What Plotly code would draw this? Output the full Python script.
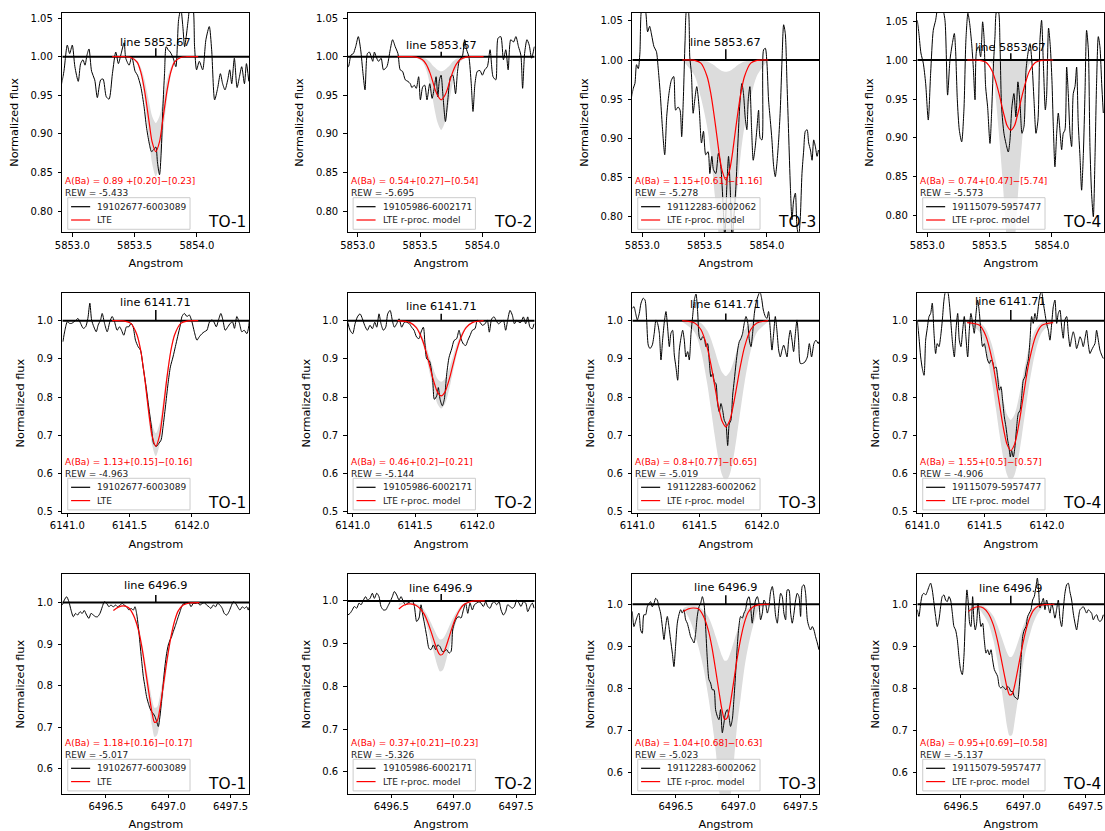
import plotly.graph_objects as go

# ---------------------------------------------------------------------------
# Ba II lines and stars
# ---------------------------------------------------------------------------
LINES = [5853.67, 6141.71, 6496.9]
CONTINUUM = 1.0
STARS = ["TO-1", "TO-2", "TO-3", "TO-4"]
STAR_IDS = ["19102677-6003089", "19105986-6002171", "19112283-6002062", "19115079-5957477"]
MODEL_NAMES = ["LTE", "LTE r-proc. model", "LTE r-proc. model", "LTE r-proc. model"]

ABUND_TEXT = [
    ["A(Ba) = 0.89 +[0.20]\u2212[0.23]", "A(Ba) = 0.54+[0.27]\u2212[0.54]",
     "A(Ba) = 1.15+[0.61]\u2212[1.16]", "A(Ba) = 0.74+[0.47]\u2212[5.74]"],
    ["A(Ba) = 1.13+[0.15]\u2212[0.16]", "A(Ba) = 0.46+[0.2]\u2212[0.21]",
     "A(Ba) = 0.8+[0.77]\u2212[0.65]", "A(Ba) = 1.55+[0.5]\u2212[0.57]"],
    ["A(Ba) = 1.18+[0.16]\u2212[0.17]", "A(Ba) = 0.37+[0.21]\u2212[0.23]",
     "A(Ba) = 1.04+[0.68]\u2212[0.63]", "A(Ba) = 0.95+[0.69]\u2212[0.58]"],
]
REW = [
    [-5.433, -5.695, -5.278, -5.573],
    [-4.963, -5.144, -5.019, -4.906],
    [-5.017, -5.326, -5.023, -5.137],
]

# ---------------------------------------------------------------------------
# Observed spectra: (wavelength [A], normalized flux)
# ---------------------------------------------------------------------------
spec_5853_to1 = [
    (5852.912, 0.963), (5852.933, 0.981), (5852.960, 1.015), (5852.979, 1.004), (5853.000, 1.015),
    (5853.021, 0.987), (5853.048, 0.968), (5853.067, 0.991), (5853.086, 0.996), (5853.102, 0.989),
    (5853.118, 1.002), (5853.134, 1.010), (5853.155, 0.981), (5853.180, 0.970), (5853.201, 0.947),
    (5853.228, 0.970), (5853.247, 0.971), (5853.273, 0.948), (5853.295, 0.945), (5853.322, 0.978),
    (5853.349, 1.006), (5853.370, 0.991), (5853.389, 1.002), (5853.416, 1.018), (5853.429, 0.998),
    (5853.456, 0.989), (5853.477, 1.000), (5853.504, 0.981), (5853.523, 0.976), (5853.550, 0.961),
    (5853.576, 0.935), (5853.595, 0.909), (5853.617, 0.888), (5853.635, 0.877), (5853.651, 0.879),
    (5853.670, 0.883), (5853.684, 0.862), (5853.700, 0.847), (5853.713, 0.875), (5853.727, 0.935),
    (5853.740, 0.978), (5853.753, 1.013), (5853.769, 1.009), (5853.786, 1.006), (5853.810, 0.998),
    (5853.831, 0.987), (5853.853, 1.048), (5853.871, 1.062), (5853.887, 1.039), (5853.901, 1.013),
    (5853.914, 1.026), (5853.930, 1.048), (5853.946, 1.065), (5853.965, 1.065), (5853.981, 1.013),
    (5853.997, 0.983), (5854.019, 0.994), (5854.046, 0.983), (5854.072, 1.022), (5854.099, 1.039),
    (5854.118, 1.009), (5854.142, 0.944), (5854.166, 0.959), (5854.188, 0.978), (5854.206, 0.965),
    (5854.225, 0.957), (5854.247, 0.970), (5854.263, 0.983), (5854.279, 0.965), (5854.300, 0.998),
    (5854.322, 0.960), (5854.340, 0.973), (5854.359, 0.987), (5854.381, 0.965), (5854.397, 0.991),
    (5854.416, 0.968),
]
spec_5853_to2 = [
    (5852.906, 0.989), (5852.925, 0.987), (5852.946, 1.002), (5852.965, 1.004), (5852.984, 1.013),
    (5853.005, 1.026), (5853.024, 1.009), (5853.043, 0.978), (5853.059, 0.957), (5853.078, 1.004),
    (5853.094, 1.006), (5853.108, 1.000), (5853.121, 0.994), (5853.134, 1.006), (5853.148, 1.000),
    (5853.167, 0.994), (5853.188, 0.998), (5853.207, 0.983), (5853.234, 0.987), (5853.261, 1.009),
    (5853.280, 1.022), (5853.301, 1.013), (5853.323, 1.004), (5853.341, 0.983), (5853.360, 0.981),
    (5853.382, 0.970), (5853.403, 0.968), (5853.422, 0.965), (5853.435, 0.960), (5853.454, 0.963),
    (5853.470, 0.959), (5853.489, 0.974), (5853.503, 0.944), (5853.522, 0.961), (5853.538, 0.963),
    (5853.556, 0.944), (5853.578, 0.965), (5853.597, 0.946), (5853.616, 0.961), (5853.629, 0.974),
    (5853.643, 0.948), (5853.656, 0.970), (5853.669, 0.976), (5853.683, 0.952), (5853.704, 0.916),
    (5853.723, 0.944), (5853.745, 0.974), (5853.763, 0.976), (5853.785, 0.952), (5853.801, 0.981),
    (5853.817, 0.996), (5853.839, 1.000), (5853.858, 1.022), (5853.874, 1.009), (5853.892, 1.000),
    (5853.911, 0.965), (5853.925, 0.929), (5853.941, 0.965), (5853.960, 0.981), (5853.981, 0.982),
    (5854.000, 0.976), (5854.019, 0.983), (5854.040, 0.987), (5854.062, 1.009), (5854.086, 0.974),
    (5854.108, 0.970), (5854.126, 1.024), (5854.148, 1.026), (5854.169, 0.996), (5854.188, 1.009),
    (5854.207, 0.983), (5854.228, 1.022), (5854.250, 1.019), (5854.269, 1.026), (5854.290, 1.013),
    (5854.309, 1.002), (5854.323, 0.959), (5854.339, 1.004), (5854.358, 1.022), (5854.376, 1.015),
    (5854.395, 0.998), (5854.417, 1.013),
]
spec_5853_to3 = [
    (5852.912, 0.951), (5852.928, 0.964), (5852.941, 0.970), (5852.954, 0.994), (5852.968, 0.989),
    (5852.981, 1.009), (5852.992, 1.062), (5853.008, 1.070), (5853.027, 1.062), (5853.043, 1.036),
    (5853.059, 1.043), (5853.075, 1.032), (5853.094, 1.017), (5853.113, 1.011), (5853.129, 0.987),
    (5853.145, 0.955), (5853.161, 0.915), (5853.180, 0.879), (5853.196, 0.928), (5853.214, 0.957),
    (5853.233, 0.974), (5853.252, 0.979), (5853.268, 0.936), (5853.287, 0.940), (5853.303, 0.936),
    (5853.316, 0.902), (5853.330, 0.953), (5853.343, 1.023), (5853.357, 1.065), (5853.367, 1.065),
    (5853.381, 1.004), (5853.394, 0.983), (5853.408, 0.932), (5853.421, 0.949), (5853.437, 0.966),
    (5853.456, 0.940), (5853.475, 0.894), (5853.491, 0.909), (5853.509, 0.879), (5853.528, 0.883),
    (5853.542, 0.855), (5853.558, 0.877), (5853.571, 0.860), (5853.590, 0.855), (5853.611, 0.881),
    (5853.630, 0.864), (5853.649, 0.813), (5853.662, 0.772), (5853.678, 0.838), (5853.692, 0.877),
    (5853.705, 0.838), (5853.721, 0.772), (5853.737, 0.804), (5853.751, 0.838), (5853.767, 0.894),
    (5853.783, 0.945), (5853.799, 0.970), (5853.812, 0.957), (5853.826, 0.926), (5853.839, 0.911),
    (5853.850, 0.949), (5853.863, 0.966), (5853.877, 0.911), (5853.890, 0.872), (5853.906, 0.889),
    (5853.920, 0.913), (5853.933, 0.936), (5853.946, 0.900), (5853.960, 0.898), (5853.973, 1.013),
    (5853.987, 1.015), (5854.000, 0.996), (5854.013, 0.949), (5854.027, 0.923), (5854.040, 0.898),
    (5854.054, 0.864), (5854.067, 0.851), (5854.080, 0.868), (5854.094, 0.898), (5854.107, 0.936),
    (5854.121, 1.000), (5854.134, 1.045), (5854.147, 1.034), (5854.161, 0.970), (5854.174, 0.906),
    (5854.188, 0.838), (5854.201, 0.796), (5854.214, 0.821), (5854.228, 0.830), (5854.241, 0.787),
    (5854.255, 0.775), (5854.268, 0.800), (5854.281, 0.855), (5854.295, 0.885), (5854.308, 0.909),
    (5854.322, 0.911), (5854.335, 0.894), (5854.349, 0.885), (5854.362, 0.872), (5854.375, 0.898),
    (5854.389, 0.889), (5854.402, 0.877), (5854.413, 0.885),
]
spec_5853_to4 = [
    (5852.920, 1.051), (5852.933, 1.034), (5852.949, 1.009), (5852.968, 0.996), (5852.987, 0.970),
    (5853.008, 0.923), (5853.027, 0.983), (5853.048, 1.038), (5853.067, 1.051), (5853.083, 1.066),
    (5853.102, 1.070), (5853.123, 1.066), (5853.142, 1.051), (5853.163, 0.955), (5853.182, 1.000),
    (5853.201, 1.021), (5853.217, 1.034), (5853.227, 1.013), (5853.241, 0.949), (5853.257, 0.910),
    (5853.276, 0.895), (5853.294, 0.936), (5853.310, 1.026), (5853.326, 1.060), (5853.340, 1.047),
    (5853.356, 1.021), (5853.369, 0.991), (5853.383, 0.949), (5853.396, 1.013), (5853.412, 1.017),
    (5853.428, 1.004), (5853.444, 1.049), (5853.455, 1.030), (5853.468, 0.966), (5853.484, 0.940),
    (5853.503, 0.893), (5853.516, 0.932), (5853.530, 0.991), (5853.543, 1.030), (5853.556, 1.062),
    (5853.570, 1.062), (5853.583, 1.021), (5853.596, 0.940), (5853.615, 0.906), (5853.631, 0.893),
    (5853.650, 0.882), (5853.663, 0.897), (5853.679, 0.940), (5853.695, 0.957), (5853.711, 0.927),
    (5853.727, 0.972), (5853.744, 0.944), (5853.760, 0.906), (5853.776, 0.915), (5853.792, 0.987),
    (5853.808, 1.009), (5853.824, 1.021), (5853.840, 0.996), (5853.856, 0.949), (5853.872, 0.906),
    (5853.888, 0.923), (5853.904, 1.026), (5853.917, 1.051), (5853.931, 0.996), (5853.947, 0.936),
    (5853.957, 0.953), (5853.973, 1.041), (5853.987, 1.017), (5854.000, 0.974), (5854.011, 0.915),
    (5854.024, 0.863), (5854.038, 0.906), (5854.051, 0.932), (5854.064, 0.910), (5854.078, 0.885),
    (5854.091, 0.906), (5854.104, 0.910), (5854.118, 0.991), (5854.131, 0.957), (5854.145, 0.906),
    (5854.158, 0.889), (5854.171, 0.957), (5854.185, 0.966), (5854.198, 0.991), (5854.211, 0.919),
    (5854.225, 0.876), (5854.238, 0.833), (5854.252, 0.880), (5854.265, 0.957), (5854.278, 1.038),
    (5854.292, 1.013), (5854.305, 0.889), (5854.318, 0.829), (5854.332, 0.799), (5854.345, 0.872),
    (5854.358, 0.970), (5854.372, 1.030), (5854.385, 1.017), (5854.399, 0.970), (5854.412, 0.932),
]
spec_6141_to1 = [
    (6140.965, 0.945), (6140.981, 0.975), (6141.000, 0.997), (6141.019, 0.993), (6141.035, 0.993),
    (6141.053, 0.997), (6141.072, 1.002), (6141.085, 1.006), (6141.107, 0.993), (6141.128, 0.980),
    (6141.147, 0.984), (6141.165, 1.006), (6141.181, 1.046), (6141.195, 1.002), (6141.213, 0.984),
    (6141.232, 0.971), (6141.248, 0.989), (6141.267, 1.002), (6141.280, 1.019), (6141.299, 0.993),
    (6141.320, 0.971), (6141.341, 0.997), (6141.360, 1.011), (6141.379, 0.997), (6141.400, 0.975),
    (6141.419, 0.984), (6141.435, 0.975), (6141.453, 0.962), (6141.475, 0.984), (6141.493, 0.984),
    (6141.512, 0.993), (6141.528, 0.984), (6141.547, 0.949), (6141.568, 0.932), (6141.587, 0.923),
    (6141.608, 0.879), (6141.632, 0.827), (6141.653, 0.774), (6141.675, 0.722), (6141.693, 0.678),
    (6141.715, 0.671), (6141.733, 0.678), (6141.752, 0.687), (6141.768, 0.722), (6141.787, 0.774),
    (6141.808, 0.835), (6141.827, 0.879), (6141.848, 0.905), (6141.867, 0.932), (6141.885, 0.958),
    (6141.907, 0.989), (6141.920, 1.011), (6141.939, 1.019), (6141.960, 1.011), (6141.979, 1.015),
    (6142.000, 0.997), (6142.019, 0.971), (6142.040, 0.949), (6142.059, 0.958), (6142.080, 0.966),
    (6142.099, 0.971), (6142.120, 0.975), (6142.141, 0.997), (6142.160, 1.002), (6142.176, 0.997),
    (6142.195, 0.984), (6142.213, 1.002), (6142.232, 1.019), (6142.248, 1.002), (6142.267, 0.975),
    (6142.288, 0.984), (6142.307, 0.993), (6142.325, 0.997), (6142.341, 0.980), (6142.360, 1.011),
    (6142.381, 0.993), (6142.400, 0.971), (6142.419, 0.975), (6142.440, 0.966), (6142.453, 0.980),
    (6142.461, 1.002),
]
spec_6141_to2 = [
    (6140.960, 0.996), (6140.979, 0.975), (6141.000, 0.966), (6141.019, 0.992), (6141.038, 1.010),
    (6141.059, 1.018), (6141.078, 1.005), (6141.096, 0.988), (6141.118, 0.975), (6141.139, 0.988),
    (6141.158, 0.979), (6141.177, 0.996), (6141.193, 0.983), (6141.211, 1.018), (6141.227, 0.992),
    (6141.246, 0.975), (6141.265, 0.983), (6141.281, 1.018), (6141.300, 1.027), (6141.318, 1.001),
    (6141.334, 0.983), (6141.353, 0.992), (6141.372, 1.005), (6141.393, 0.983), (6141.415, 0.996),
    (6141.433, 0.996), (6141.455, 0.992), (6141.473, 0.983), (6141.492, 0.975), (6141.513, 0.957),
    (6141.532, 0.953), (6141.548, 0.970), (6141.567, 0.983), (6141.580, 0.939), (6141.594, 0.900),
    (6141.615, 0.895), (6141.628, 0.878), (6141.642, 0.843), (6141.655, 0.794), (6141.674, 0.803),
    (6141.687, 0.825), (6141.701, 0.794), (6141.719, 0.777), (6141.735, 0.794), (6141.754, 0.860),
    (6141.773, 0.904), (6141.794, 0.926), (6141.813, 0.948), (6141.834, 0.953), (6141.853, 0.975),
    (6141.869, 0.953), (6141.888, 0.939), (6141.907, 0.935), (6141.923, 0.948), (6141.941, 0.961),
    (6141.960, 0.975), (6141.981, 0.979), (6142.000, 1.001), (6142.021, 0.996), (6142.040, 0.988),
    (6142.062, 0.992), (6142.080, 1.001), (6142.096, 0.970), (6142.115, 1.005), (6142.134, 1.010),
    (6142.150, 1.001), (6142.169, 0.992), (6142.187, 0.996), (6142.209, 1.001), (6142.227, 0.975),
    (6142.243, 1.001), (6142.262, 1.027), (6142.281, 1.014), (6142.297, 0.992), (6142.316, 1.001),
    (6142.334, 0.996), (6142.350, 0.996), (6142.369, 1.010), (6142.388, 0.992), (6142.404, 1.010),
    (6142.422, 0.983), (6142.441, 0.979), (6142.455, 0.992),
]
spec_6141_to3 = [
    (6140.960, 1.032), (6140.973, 1.037), (6140.987, 1.019), (6141.000, 1.002), (6141.016, 1.019),
    (6141.030, 1.046), (6141.048, 1.059), (6141.062, 1.054), (6141.075, 1.002), (6141.088, 0.936),
    (6141.102, 0.927), (6141.120, 0.936), (6141.136, 0.967), (6141.150, 1.002), (6141.163, 0.993),
    (6141.177, 0.967), (6141.190, 0.897), (6141.203, 0.949), (6141.217, 0.997), (6141.230, 1.024),
    (6141.243, 0.984), (6141.257, 0.932), (6141.270, 0.967), (6141.283, 0.975), (6141.297, 0.910),
    (6141.310, 0.879), (6141.324, 0.844), (6141.337, 0.923), (6141.350, 0.954), (6141.364, 0.975),
    (6141.377, 0.949), (6141.390, 0.905), (6141.404, 0.919), (6141.417, 0.897), (6141.431, 0.967),
    (6141.444, 1.011), (6141.457, 1.054), (6141.471, 1.070), (6141.484, 1.024), (6141.497, 0.958),
    (6141.511, 0.949), (6141.524, 0.958), (6141.537, 0.954), (6141.551, 0.932), (6141.564, 0.940),
    (6141.578, 0.892), (6141.591, 0.853), (6141.605, 0.862), (6141.618, 0.840), (6141.631, 0.835),
    (6141.644, 0.783), (6141.658, 0.761), (6141.671, 0.783), (6141.685, 0.765), (6141.698, 0.739),
    (6141.711, 0.730), (6141.725, 0.673), (6141.738, 0.730), (6141.751, 0.739), (6141.765, 0.805),
    (6141.778, 0.844), (6141.792, 0.888), (6141.805, 0.923), (6141.818, 0.945), (6141.832, 0.954),
    (6141.845, 0.967), (6141.858, 0.993), (6141.872, 1.011), (6141.885, 0.997), (6141.899, 0.949),
    (6141.912, 0.932), (6141.925, 0.967), (6141.939, 1.019), (6141.952, 1.046), (6141.971, 1.067),
    (6141.984, 1.076), (6141.997, 1.059), (6142.011, 1.028), (6142.027, 1.011), (6142.040, 1.006),
    (6142.053, 1.024), (6142.067, 0.975), (6142.080, 0.923), (6142.094, 0.967), (6142.107, 1.011),
    (6142.120, 0.975), (6142.134, 0.923), (6142.147, 0.905), (6142.161, 0.923), (6142.174, 0.936),
    (6142.187, 0.923), (6142.201, 0.905), (6142.214, 0.949), (6142.227, 0.975), (6142.241, 0.949),
    (6142.254, 0.919), (6142.267, 0.962), (6142.281, 1.002), (6142.294, 0.949), (6142.308, 0.888),
    (6142.326, 0.888), (6142.345, 0.892), (6142.364, 0.905), (6142.380, 0.940), (6142.398, 0.905),
    (6142.417, 0.940), (6142.433, 0.949), (6142.452, 0.940), (6142.457, 0.945),
]
spec_6141_to4 = [
    (6140.960, 1.002), (6140.973, 0.958), (6140.987, 0.905), (6141.000, 0.875), (6141.014, 0.857),
    (6141.027, 0.949), (6141.040, 0.980), (6141.054, 1.011), (6141.067, 1.019), (6141.080, 1.046),
    (6141.094, 0.967), (6141.107, 0.914), (6141.120, 0.940), (6141.134, 0.932), (6141.147, 0.958),
    (6141.161, 1.002), (6141.174, 1.054), (6141.187, 1.076), (6141.203, 1.076), (6141.217, 1.046),
    (6141.230, 0.993), (6141.243, 0.940), (6141.257, 0.905), (6141.270, 0.975), (6141.284, 1.019),
    (6141.297, 0.949), (6141.310, 0.932), (6141.324, 0.975), (6141.337, 1.011), (6141.350, 0.958),
    (6141.364, 0.905), (6141.377, 0.975), (6141.390, 1.019), (6141.404, 0.993), (6141.417, 0.967),
    (6141.431, 1.019), (6141.444, 1.054), (6141.457, 1.024), (6141.471, 0.967), (6141.484, 0.932),
    (6141.497, 0.940), (6141.511, 0.919), (6141.524, 0.897), (6141.538, 0.888), (6141.551, 0.897),
    (6141.564, 0.892), (6141.578, 0.875), (6141.591, 0.879), (6141.604, 0.853), (6141.618, 0.818),
    (6141.631, 0.827), (6141.644, 0.792), (6141.658, 0.748), (6141.671, 0.722), (6141.685, 0.687),
    (6141.695, 0.669), (6141.706, 0.643), (6141.717, 0.660), (6141.730, 0.643), (6141.743, 0.669),
    (6141.757, 0.722), (6141.770, 0.757), (6141.784, 0.765), (6141.797, 0.800), (6141.810, 0.844),
    (6141.824, 0.853), (6141.837, 0.879), (6141.850, 0.897), (6141.864, 0.949), (6141.877, 1.011),
    (6141.890, 0.993), (6141.904, 1.019), (6141.917, 1.002), (6141.931, 1.037), (6141.944, 1.067),
    (6141.957, 1.076), (6141.971, 1.046), (6141.984, 1.019), (6141.997, 0.993), (6142.011, 0.975),
    (6142.024, 0.949), (6142.038, 0.993), (6142.051, 1.037), (6142.064, 1.054), (6142.078, 0.993),
    (6142.091, 1.019), (6142.104, 1.028), (6142.118, 0.984), (6142.131, 0.954), (6142.144, 1.002),
    (6142.158, 1.011), (6142.171, 0.967), (6142.185, 0.932), (6142.198, 0.954), (6142.211, 0.971),
    (6142.225, 0.954), (6142.238, 0.927), (6142.251, 0.940), (6142.265, 0.958), (6142.278, 0.949),
    (6142.291, 0.932), (6142.305, 0.954), (6142.318, 0.975), (6142.331, 0.940), (6142.345, 0.914),
    (6142.358, 0.923), (6142.372, 0.932), (6142.385, 0.940), (6142.398, 0.975), (6142.412, 0.949),
    (6142.425, 0.923), (6142.439, 0.910), (6142.452, 0.901),
]
spec_6497_to1 = [
    (6496.150, 0.994), (6496.166, 1.006), (6496.185, 1.014), (6496.203, 1.002), (6496.220, 0.982),
    (6496.238, 0.966), (6496.257, 0.974), (6496.273, 0.970), (6496.292, 0.978), (6496.310, 0.974),
    (6496.326, 0.981), (6496.345, 0.970), (6496.364, 0.962), (6496.380, 0.974), (6496.399, 0.970),
    (6496.417, 0.966), (6496.433, 0.966), (6496.452, 0.974), (6496.471, 0.990), (6496.487, 1.002),
    (6496.506, 0.998), (6496.524, 0.990), (6496.540, 0.994), (6496.559, 0.990), (6496.578, 0.994),
    (6496.594, 0.990), (6496.613, 0.994), (6496.631, 0.998), (6496.647, 0.994), (6496.666, 0.990),
    (6496.685, 0.982), (6496.701, 0.986), (6496.720, 0.982), (6496.733, 0.990), (6496.746, 0.974),
    (6496.760, 0.942), (6496.773, 0.902), (6496.786, 0.862), (6496.800, 0.822), (6496.813, 0.798),
    (6496.826, 0.774), (6496.840, 0.758), (6496.853, 0.746), (6496.866, 0.738), (6496.880, 0.733),
    (6496.893, 0.726), (6496.907, 0.714), (6496.920, 0.702), (6496.933, 0.726), (6496.947, 0.766),
    (6496.960, 0.806), (6496.973, 0.846), (6496.987, 0.878), (6497.000, 0.898), (6497.014, 0.910),
    (6497.027, 0.918), (6497.040, 0.930), (6497.054, 0.942), (6497.067, 0.954), (6497.080, 0.966),
    (6497.094, 0.978), (6497.107, 0.990), (6497.121, 0.997), (6497.134, 0.998), (6497.147, 1.000),
    (6497.166, 1.000), (6497.182, 0.990), (6497.201, 0.998), (6497.219, 0.998), (6497.236, 1.000),
    (6497.254, 0.994), (6497.273, 0.998), (6497.289, 1.000), (6497.308, 0.994), (6497.326, 0.990),
    (6497.342, 0.986), (6497.361, 0.994), (6497.380, 0.990), (6497.396, 0.998), (6497.415, 0.994),
    (6497.433, 0.986), (6497.449, 0.974), (6497.468, 0.970), (6497.487, 0.978), (6497.503, 0.990),
    (6497.522, 1.002), (6497.540, 0.998), (6497.556, 0.990), (6497.575, 0.982), (6497.594, 0.990),
    (6497.610, 0.986), (6497.629, 0.990), (6497.642, 0.982), (6497.650, 0.990),
]
spec_6497_to2 = [
    (6496.150, 0.967), (6496.169, 0.971), (6496.187, 0.979), (6496.203, 0.987), (6496.222, 0.983),
    (6496.241, 0.995), (6496.257, 0.991), (6496.276, 1.002), (6496.294, 1.010), (6496.310, 1.002),
    (6496.329, 1.006), (6496.348, 1.018), (6496.364, 1.006), (6496.383, 1.018), (6496.401, 1.010),
    (6496.417, 0.987), (6496.436, 0.979), (6496.455, 0.979), (6496.471, 0.987), (6496.490, 0.998),
    (6496.508, 1.010), (6496.524, 1.022), (6496.543, 1.014), (6496.562, 1.002), (6496.578, 1.010),
    (6496.597, 0.998), (6496.615, 0.991), (6496.631, 0.995), (6496.650, 0.998), (6496.668, 1.002),
    (6496.685, 0.987), (6496.703, 0.952), (6496.722, 0.960), (6496.738, 0.991), (6496.752, 0.967),
    (6496.765, 0.948), (6496.784, 0.917), (6496.802, 0.889), (6496.818, 0.886), (6496.837, 0.897),
    (6496.856, 0.886), (6496.872, 0.897), (6496.891, 0.893), (6496.909, 0.882), (6496.925, 0.882),
    (6496.944, 0.886), (6496.963, 0.878), (6496.979, 0.882), (6496.992, 0.932), (6497.006, 0.948),
    (6497.024, 0.960), (6497.043, 0.963), (6497.059, 0.960), (6497.078, 0.979), (6497.096, 0.995),
    (6497.113, 0.971), (6497.131, 0.995), (6497.150, 0.979), (6497.166, 0.991), (6497.185, 0.995),
    (6497.203, 0.998), (6497.219, 0.995), (6497.238, 0.987), (6497.257, 0.998), (6497.273, 0.987),
    (6497.292, 0.983), (6497.310, 0.995), (6497.326, 0.998), (6497.345, 0.991), (6497.364, 0.998),
    (6497.380, 0.979), (6497.399, 0.967), (6497.417, 0.975), (6497.433, 0.991), (6497.452, 0.987),
    (6497.471, 0.983), (6497.487, 0.987), (6497.506, 1.002), (6497.524, 0.995), (6497.540, 0.987),
    (6497.559, 0.998), (6497.578, 0.995), (6497.594, 0.975), (6497.613, 0.987), (6497.631, 0.995),
    (6497.645, 0.983),
]
spec_6497_to3 = [
    (6496.150, 0.983), (6496.163, 0.947), (6496.177, 0.959), (6496.190, 0.971), (6496.203, 0.979),
    (6496.217, 0.939), (6496.230, 0.931), (6496.243, 0.975), (6496.257, 0.975), (6496.270, 0.994),
    (6496.284, 1.002), (6496.297, 1.006), (6496.310, 0.994), (6496.324, 1.002), (6496.337, 1.014),
    (6496.350, 1.010), (6496.364, 0.994), (6496.377, 0.979), (6496.391, 0.947), (6496.404, 0.916),
    (6496.417, 0.947), (6496.431, 0.971), (6496.444, 0.947), (6496.457, 0.916), (6496.471, 0.884),
    (6496.484, 0.852), (6496.497, 0.900), (6496.511, 0.955), (6496.524, 0.975), (6496.538, 0.987),
    (6496.551, 0.979), (6496.564, 0.987), (6496.578, 0.963), (6496.591, 0.955), (6496.605, 0.939),
    (6496.618, 0.923), (6496.631, 0.916), (6496.645, 0.908), (6496.658, 0.931), (6496.671, 0.971),
    (6496.685, 0.994), (6496.698, 1.002), (6496.712, 1.018), (6496.725, 1.002), (6496.738, 0.947),
    (6496.752, 0.868), (6496.765, 0.821), (6496.778, 0.813), (6496.792, 0.797), (6496.805, 0.797),
    (6496.818, 0.750), (6496.832, 0.734), (6496.845, 0.726), (6496.858, 0.750), (6496.872, 0.695),
    (6496.885, 0.718), (6496.898, 0.742), (6496.912, 0.750), (6496.925, 0.734), (6496.938, 0.710),
    (6496.952, 0.726), (6496.965, 0.774), (6496.979, 0.837), (6496.992, 0.900), (6497.005, 0.947),
    (6497.019, 0.971), (6497.032, 0.967), (6497.046, 0.979), (6497.059, 0.987), (6497.072, 1.010),
    (6497.086, 1.018), (6497.099, 0.994), (6497.112, 0.955), (6497.126, 0.987), (6497.139, 1.010),
    (6497.153, 1.018), (6497.166, 1.002), (6497.179, 0.963), (6497.193, 0.979), (6497.206, 1.010),
    (6497.219, 1.002), (6497.233, 0.979), (6497.246, 0.994), (6497.260, 1.030), (6497.273, 1.042),
    (6497.286, 1.018), (6497.300, 0.971), (6497.313, 0.955), (6497.326, 0.994), (6497.340, 1.026),
    (6497.353, 1.018), (6497.366, 0.979), (6497.380, 0.963), (6497.393, 1.034), (6497.406, 1.034),
    (6497.420, 0.979), (6497.433, 0.955), (6497.447, 0.979), (6497.460, 1.010), (6497.473, 1.026),
    (6497.487, 1.018), (6497.500, 0.971), (6497.513, 1.042), (6497.527, 1.046), (6497.540, 1.026),
    (6497.554, 0.963), (6497.567, 0.947), (6497.580, 0.939), (6497.594, 0.947), (6497.607, 0.939),
    (6497.620, 0.923), (6497.634, 0.908), (6497.647, 0.892),
]
spec_6497_to4 = [
    (6496.150, 0.987), (6496.163, 0.971), (6496.177, 1.002), (6496.190, 1.022), (6496.203, 1.026),
    (6496.217, 1.022), (6496.230, 1.030), (6496.244, 1.042), (6496.257, 1.050), (6496.270, 1.034),
    (6496.284, 1.002), (6496.297, 0.971), (6496.310, 0.947), (6496.324, 0.963), (6496.337, 0.994),
    (6496.350, 1.018), (6496.364, 1.022), (6496.377, 1.010), (6496.390, 1.006), (6496.404, 1.018),
    (6496.417, 1.010), (6496.431, 0.979), (6496.444, 0.947), (6496.457, 0.939), (6496.471, 0.916),
    (6496.484, 0.876), (6496.497, 0.845), (6496.511, 0.833), (6496.524, 0.876), (6496.537, 0.979),
    (6496.548, 1.034), (6496.559, 1.002), (6496.570, 0.955), (6496.580, 0.947), (6496.594, 1.018),
    (6496.604, 0.963), (6496.615, 0.939), (6496.626, 0.955), (6496.637, 1.002), (6496.647, 0.979),
    (6496.661, 0.947), (6496.674, 0.955), (6496.687, 0.916), (6496.701, 0.884), (6496.714, 0.892),
    (6496.728, 0.880), (6496.741, 0.892), (6496.754, 0.868), (6496.768, 0.845), (6496.781, 0.837),
    (6496.794, 0.829), (6496.808, 0.805), (6496.821, 0.801), (6496.835, 0.805), (6496.848, 0.801),
    (6496.861, 0.797), (6496.875, 0.805), (6496.888, 0.801), (6496.901, 0.793), (6496.915, 0.793),
    (6496.928, 0.781), (6496.941, 0.778), (6496.955, 0.774), (6496.968, 0.805), (6496.982, 0.868),
    (6496.995, 0.923), (6497.008, 0.939), (6497.022, 0.947), (6497.035, 0.971), (6497.048, 0.979),
    (6497.062, 0.987), (6497.075, 1.010), (6497.088, 1.018), (6497.102, 1.042), (6497.113, 1.062),
    (6497.123, 1.034), (6497.134, 0.991), (6497.147, 1.002), (6497.161, 1.014), (6497.174, 0.987),
    (6497.187, 1.010), (6497.201, 0.994), (6497.214, 0.979), (6497.228, 1.002), (6497.241, 0.987),
    (6497.254, 0.967), (6497.267, 0.987), (6497.281, 1.010), (6497.294, 0.967), (6497.308, 0.947),
    (6497.321, 0.987), (6497.334, 1.026), (6497.348, 1.046), (6497.361, 1.050), (6497.374, 1.030),
    (6497.388, 1.010), (6497.401, 0.979), (6497.415, 0.955), (6497.428, 0.939), (6497.441, 0.963),
    (6497.455, 0.987), (6497.468, 0.991), (6497.482, 0.994), (6497.495, 0.987), (6497.508, 0.979),
    (6497.522, 0.987), (6497.535, 0.983), (6497.548, 0.979), (6497.562, 0.963), (6497.575, 0.971),
    (6497.589, 0.975), (6497.602, 0.963), (6497.615, 0.959), (6497.629, 0.963), (6497.642, 0.975),
]

# ---------------------------------------------------------------------------
# Synthetic profiles: best-fit model and the +/- abundance envelope
# Rows 1-2 are sampled at offsets from the line centre, row 3 on a fixed grid.
# ---------------------------------------------------------------------------
MODEL_DL = [-0.35, -0.25, -0.20, -0.15, -0.12, -0.09, -0.07, -0.05, -0.03, 0.0,
            0.03, 0.05, 0.07, 0.09, 0.12, 0.15, 0.20, 0.25, 0.34]
MODEL_WL_6497 = [6496.56, 6496.60, 6496.64, 6496.68, 6496.72, 6496.76, 6496.79, 6496.82,
                 6496.85, 6496.87, 6496.89, 6496.91, 6496.93, 6496.96, 6496.99, 6497.02,
                 6497.05, 6497.08, 6497.12, 6497.17, 6497.25]

fit_5853_to1 = [1.0, 1.0, 0.999, 0.993, 0.980, 0.956, 0.934, 0.911, 0.890, 0.877, 0.890, 0.911, 0.934, 0.956, 0.980, 0.993, 0.999, 1.0, 1.0]
hi_5853_to1 = [1.0, 1.0, 1.0, 0.995, 0.986, 0.970, 0.954, 0.938, 0.923, 0.914, 0.923, 0.938, 0.954, 0.970, 0.986, 0.995, 1.0, 1.0, 1.0]
lo_5853_to1 = [1.0, 1.0, 0.999, 0.991, 0.975, 0.945, 0.917, 0.887, 0.862, 0.845, 0.862, 0.887, 0.917, 0.945, 0.975, 0.991, 0.999, 1.0, 1.0]

fit_5853_to2 = [1.0, 1.0, 0.9995, 0.996, 0.990, 0.979, 0.969, 0.958, 0.950, 0.944, 0.950, 0.958, 0.969, 0.979, 0.990, 0.996, 0.9995, 1.0, 1.0]
hi_5853_to2 = [1.0, 1.0, 1.0, 0.999, 0.997, 0.993, 0.989, 0.986, 0.983, 0.981, 0.983, 0.986, 0.989, 0.993, 0.997, 0.999, 1.0, 1.0, 1.0]
lo_5853_to2 = [1.0, 1.0, 0.999, 0.993, 0.983, 0.964, 0.947, 0.929, 0.915, 0.905, 0.915, 0.929, 0.947, 0.964, 0.983, 0.993, 0.999, 1.0, 1.0]

fit_5853_to3 = [1.0, 0.9995, 0.996, 0.979, 0.957, 0.925, 0.901, 0.877, 0.859, 0.847, 0.859, 0.877, 0.901, 0.925, 0.957, 0.979, 0.996, 0.9995, 1.0]
hi_5853_to3 = [1.0, 1.0, 1.0, 0.998, 0.996, 0.993, 0.990, 0.988, 0.986, 0.985, 0.986, 0.988, 0.990, 0.993, 0.996, 0.998, 1.0, 1.0, 1.0]
lo_5853_to3 = [1.0, 0.98, 0.952, 0.915, 0.88, 0.83, 0.80, 0.76, 0.72, 0.68, 0.72, 0.76, 0.80, 0.83, 0.88, 0.915, 0.952, 0.98, 1.0]

fit_5853_to4 = [1.0, 0.9995, 0.997, 0.986, 0.972, 0.954, 0.940, 0.927, 0.916, 0.910, 0.916, 0.927, 0.940, 0.954, 0.972, 0.986, 0.997, 0.9995, 1.0]
hi_5853_to4 = [1.0, 1.0, 1.0, 1.0, 1.0, 1.0, 1.0, 1.0, 1.0, 1.0, 1.0, 1.0, 1.0, 1.0, 1.0, 1.0, 1.0, 1.0, 1.0]
lo_5853_to4 = [1.0, 1.0, 1.0, 0.995, 0.95, 0.895, 0.855, 0.81, 0.76, 0.70, 0.76, 0.81, 0.855, 0.895, 0.95, 0.995, 1.0, 1.0, 1.0]

fit_6141_to1 = [1.0, 0.999, 0.993, 0.962, 0.920, 0.852, 0.797, 0.743, 0.699, 0.671, 0.699, 0.743, 0.797, 0.852, 0.920, 0.962, 0.993, 0.999, 1.0]
hi_6141_to1 = [1.0, 0.999, 0.994, 0.968, 0.928, 0.867, 0.818, 0.769, 0.730, 0.705, 0.730, 0.769, 0.818, 0.867, 0.928, 0.968, 0.994, 0.999, 1.0]
lo_6141_to1 = [1.0, 0.999, 0.993, 0.961, 0.914, 0.840, 0.781, 0.722, 0.675, 0.645, 0.675, 0.722, 0.781, 0.840, 0.914, 0.961, 0.993, 0.999, 1.0]

fit_6141_to2 = [1.0, 0.995, 0.982, 0.949, 0.917, 0.879, 0.853, 0.831, 0.813, 0.803, 0.813, 0.831, 0.853, 0.879, 0.917, 0.949, 0.982, 0.995, 1.0]
hi_6141_to2 = [1.0, 0.996, 0.986, 0.959, 0.933, 0.902, 0.881, 0.862, 0.848, 0.840, 0.848, 0.862, 0.881, 0.902, 0.933, 0.959, 0.986, 0.996, 1.0]
lo_6141_to2 = [1.0, 0.995, 0.980, 0.941, 0.904, 0.859, 0.829, 0.802, 0.782, 0.770, 0.782, 0.802, 0.829, 0.859, 0.904, 0.941, 0.980, 0.995, 1.0]

fit_6141_to3 = [1.0, 0.994, 0.977, 0.931, 0.886, 0.832, 0.795, 0.762, 0.737, 0.722, 0.737, 0.762, 0.795, 0.832, 0.886, 0.931, 0.977, 0.994, 1.0]
hi_6141_to3 = [1.0, 0.999, 0.994, 0.975, 0.953, 0.923, 0.901, 0.881, 0.865, 0.855, 0.865, 0.881, 0.901, 0.923, 0.953, 0.975, 0.994, 0.999, 1.0]
lo_6141_to3 = [0.997, 0.970, 0.922, 0.837, 0.771, 0.701, 0.658, 0.622, 0.596, 0.580, 0.596, 0.622, 0.658, 0.701, 0.771, 0.837, 0.922, 0.970, 0.997]

fit_6141_to4 = [0.995, 0.988, 0.960, 0.898, 0.843, 0.780, 0.739, 0.703, 0.676, 0.660, 0.676, 0.703, 0.739, 0.780, 0.843, 0.898, 0.960, 0.988, 0.995]
hi_6141_to4 = [1.0, 0.995, 0.978, 0.935, 0.893, 0.842, 0.808, 0.777, 0.754, 0.740, 0.754, 0.777, 0.808, 0.842, 0.893, 0.935, 0.978, 0.995, 1.0]
lo_6141_to4 = [0.995, 0.970, 0.922, 0.837, 0.771, 0.701, 0.658, 0.622, 0.596, 0.580, 0.596, 0.622, 0.658, 0.701, 0.771, 0.837, 0.922, 0.970, 0.995]

fit_6497_to1 = [0.981, 0.989, 0.992, 0.988, 0.970, 0.935, 0.890, 0.832, 0.772, 0.735, 0.712, 0.715, 0.740, 0.800, 0.862, 0.915, 0.955, 0.980, 0.994, 0.999, 1.0]
hi_6497_to1 = [0.983, 0.990, 0.993, 0.989, 0.974, 0.943, 0.903, 0.852, 0.799, 0.767, 0.747, 0.749, 0.771, 0.824, 0.879, 0.925, 0.960, 0.982, 0.995, 0.999, 1.0]
lo_6497_to1 = [0.979, 0.988, 0.991, 0.987, 0.966, 0.927, 0.877, 0.812, 0.745, 0.703, 0.677, 0.681, 0.709, 0.776, 0.845, 0.905, 0.950, 0.978, 0.993, 0.999, 1.0]

fit_6497_to2 = [0.981, 0.990, 0.993, 0.992, 0.985, 0.971, 0.952, 0.927, 0.900, 0.884, 0.874, 0.875, 0.886, 0.912, 0.940, 0.963, 0.980, 0.991, 0.997, 1.0, 1.0]
hi_6497_to2 = [0.994, 0.997, 0.998, 0.996, 0.991, 0.980, 0.966, 0.948, 0.929, 0.917, 0.910, 0.911, 0.919, 0.938, 0.957, 0.973, 0.986, 0.994, 0.998, 1.0, 1.0]
lo_6497_to2 = [0.989, 0.994, 0.995, 0.993, 0.983, 0.963, 0.937, 0.904, 0.869, 0.848, 0.835, 0.837, 0.851, 0.885, 0.921, 0.951, 0.974, 0.989, 0.997, 0.999, 1.0]

fit_6497_to3 = [0.983, 0.989, 0.991, 0.989, 0.972, 0.938, 0.896, 0.841, 0.784, 0.749, 0.727, 0.730, 0.754, 0.810, 0.869, 0.919, 0.957, 0.981, 0.994, 0.999, 1.0]
hi_6497_to3 = [0.991, 0.995, 0.996, 0.994, 0.986, 0.970, 0.949, 0.922, 0.894, 0.877, 0.866, 0.867, 0.879, 0.907, 0.936, 0.960, 0.979, 0.991, 0.997, 1.0, 1.0]
lo_6497_to3 = [0.99, 0.97, 0.94, 0.90, 0.85, 0.78, 0.72, 0.65, 0.55, 0.50, 0.47, 0.48, 0.52, 0.61, 0.71, 0.78, 0.85, 0.90, 0.95, 0.99, 1.0]

fit_6497_to4 = [0.983, 0.991, 0.994, 0.991, 0.978, 0.951, 0.918, 0.875, 0.830, 0.802, 0.785, 0.787, 0.806, 0.851, 0.897, 0.937, 0.966, 0.985, 0.996, 0.999, 1.0]
hi_6497_to4 = [0.992, 0.995, 0.997, 0.995, 0.987, 0.972, 0.952, 0.927, 0.901, 0.885, 0.875, 0.876, 0.887, 0.913, 0.940, 0.963, 0.980, 0.991, 0.997, 1.0, 1.0]
lo_6497_to4 = [0.98, 0.985, 0.99, 0.975, 0.955, 0.915, 0.87, 0.81, 0.75, 0.71, 0.688, 0.69, 0.72, 0.78, 0.84, 0.89, 0.925, 0.955, 0.98, 0.995, 1.0]

# Per-panel tables assembled from the lists above
SPECTRA = [
    [spec_5853_to1, spec_5853_to2, spec_5853_to3, spec_5853_to4],
    [spec_6141_to1, spec_6141_to2, spec_6141_to3, spec_6141_to4],
    [spec_6497_to1, spec_6497_to2, spec_6497_to3, spec_6497_to4],
]
FITS = [
    [fit_5853_to1, fit_5853_to2, fit_5853_to3, fit_5853_to4],
    [fit_6141_to1, fit_6141_to2, fit_6141_to3, fit_6141_to4],
    [fit_6497_to1, fit_6497_to2, fit_6497_to3, fit_6497_to4],
]
ENV_HI = [
    [hi_5853_to1, hi_5853_to2, hi_5853_to3, hi_5853_to4],
    [hi_6141_to1, hi_6141_to2, hi_6141_to3, hi_6141_to4],
    [hi_6497_to1, hi_6497_to2, hi_6497_to3, hi_6497_to4],
]
ENV_LO = [
    [lo_5853_to1, lo_5853_to2, lo_5853_to3, lo_5853_to4],
    [lo_6141_to1, lo_6141_to2, lo_6141_to3, lo_6141_to4],
    [lo_6497_to1, lo_6497_to2, lo_6497_to3, lo_6497_to4],
]

# ---------------------------------------------------------------------------
# Axis limits, line-marker heights and label heights (flux units)
# ---------------------------------------------------------------------------
HALF_WINDOW = 0.75
Y_LIMITS = [
    [(0.7724, 1.057), (0.7724, 1.057), (0.780, 1.0604), (0.779, 1.0607)],
    [(0.4965, 1.0718), (0.4965, 1.0718), (0.4965, 1.0718), (0.4965, 1.0718)],
    [(0.540, 1.068), (0.5486, 1.0623), (0.550, 1.071), (0.550, 1.071)],
]
Y_TICKS = [
    [0.80, 0.85, 0.90, 0.95, 1.00, 1.05],
    [0.5, 0.6, 0.7, 0.8, 0.9, 1.0],
    [0.6, 0.7, 0.8, 0.9, 1.0],
]
Y_FORMAT = [".2f", ".1f", ".1f"]
X_TICKS = [
    [5853.0, 5853.5, 5854.0],
    [6141.0, 6141.5, 6142.0],
    [6496.5, 6497.0, 6497.5],
]
MARK_TOP = [
    [1.011, 1.0065, 1.0137, 1.0086],
    [1.028, 1.018, 1.019, 1.028],
    [1.018, 1.016, 1.021, 1.020],
]
LABEL_Y = [
    [1.0117, 1.0078, 1.0157, 1.0099],
    [1.035, 1.025, 1.030, 1.037],
    [1.029, 1.018, 1.028, 1.026],
]

# ---------------------------------------------------------------------------
# Layout geometry (pixels)
# ---------------------------------------------------------------------------
FIG_W, FIG_H = 1105, 831
COL_LEFT = [62.3, 347.7, 632.3, 917.3]
ROW_TOP = [12.7, 293.3, 574.3]
AX_W, AX_H = 187.0, 219.6

FONT = "DejaVu Sans"
INK = "#000000"
RED = "#ff0000"
BAND = "#dcdcdc"

fig = go.Figure()
annotations = []
shapes = []
layout_axes = {}

for r in range(3):
    line_wl = LINES[r]
    for c in range(4):
        n = r * 4 + c + 1
        sfx = "" if n == 1 else str(n)
        xa, ya = "x" + sfx, "y" + sfx
        x_lo, x_hi = line_wl - HALF_WINDOW, line_wl + HALF_WINDOW

        if r < 2:
            mx = [round(line_wl + d, 3) for d in MODEL_DL]
        else:
            mx = MODEL_WL_6497

        # envelope between the abundance +/- error models
        fig.add_trace(go.Scatter(x=mx, y=ENV_LO[r][c], mode="lines",
                                 line=dict(width=0, shape="spline", smoothing=0.8),
                                 hoverinfo="skip", xaxis=xa, yaxis=ya))
        fig.add_trace(go.Scatter(x=mx, y=ENV_HI[r][c], mode="lines", fill="tonexty",
                                 fillcolor=BAND,
                                 line=dict(width=0, shape="spline", smoothing=0.8),
                                 hoverinfo="skip", xaxis=xa, yaxis=ya))

        # observed spectrum
        wl = [p[0] for p in SPECTRA[r][c]]
        fx = [p[1] for p in SPECTRA[r][c]]
        fig.add_trace(go.Scatter(x=wl, y=fx, mode="lines", name=STAR_IDS[c],
                                 line=dict(color=INK, width=1, shape="spline", smoothing=0.7),
                                 xaxis=xa, yaxis=ya))

        # continuum level and line-centre marker
        fig.add_trace(go.Scatter(x=[x_lo, x_hi], y=[CONTINUUM, CONTINUUM], mode="lines",
                                 line=dict(color=INK, width=2), hoverinfo="skip",
                                 xaxis=xa, yaxis=ya))
        fig.add_trace(go.Scatter(x=[line_wl, line_wl], y=[CONTINUUM, MARK_TOP[r][c]],
                                 mode="lines", line=dict(color=INK, width=1.5),
                                 hoverinfo="skip", xaxis=xa, yaxis=ya))

        # best-fit synthetic profile
        fig.add_trace(go.Scatter(x=mx, y=FITS[r][c], mode="lines", name=MODEL_NAMES[c],
                                 line=dict(color=RED, width=1.2, shape="spline", smoothing=0.8),
                                 xaxis=xa, yaxis=ya))

        # axes
        left = COL_LEFT[c] / FIG_W
        right = (COL_LEFT[c] + AX_W) / FIG_W
        top = 1 - ROW_TOP[r] / FIG_H
        bottom = 1 - (ROW_TOP[r] + AX_H) / FIG_H
        common = dict(showgrid=False, zeroline=False, showline=True, mirror=True,
                      linecolor=INK, linewidth=1, ticks="outside", ticklen=3.5,
                      tickwidth=1, tickcolor=INK, automargin=False,
                      tickfont=dict(family=FONT, size=10, color=INK))
        layout_axes["xaxis" + sfx] = dict(
            common, domain=[left, right], range=[x_lo, x_hi], anchor=ya,
            tickvals=X_TICKS[r], tickformat=".1f",
            title=dict(text="Angstrom", font=dict(family=FONT, size=11.3, color=INK), standoff=9))
        layout_axes["yaxis" + sfx] = dict(
            common, domain=[bottom, top], range=list(Y_LIMITS[r][c]), anchor=xa,
            tickvals=Y_TICKS[r], tickformat=Y_FORMAT[r], ticklabelstandoff=3,
            title=dict(text="Normalized flux", font=dict(family=FONT, size=11.3, color=INK), standoff=9))

        xd, yd = xa + " domain", ya + " domain"

        # line identification
        annotations.append(dict(x=line_wl, y=LABEL_Y[r][c], xref=xa, yref=ya,
                                text=f"line {line_wl}", showarrow=False,
                                xanchor="center", yanchor="bottom", yshift=-3.5,
                                font=dict(family=FONT, size=11.3, color=INK)))
        # abundance and reduced equivalent width
        annotations.append(dict(x=0.006, y=0.232, xref=xd, yref=yd, text=ABUND_TEXT[r][c],
                                showarrow=False, xanchor="left", yanchor="middle",
                                font=dict(family=FONT, size=9, color=RED)))
        annotations.append(dict(x=0.006, y=0.179, xref=xd, yref=yd, text=f"REW = {REW[r][c]}",
                                showarrow=False, xanchor="left", yanchor="middle",
                                font=dict(family=FONT, size=9, color="#222222")))
        # star label
        annotations.append(dict(x=0.994, y=0.0, xref=xd, yref=yd, text=STARS[c],
                                showarrow=False, xanchor="right", yanchor="bottom", yshift=-1,
                                font=dict(family=FONT, size=15.4, color=INK)))

        # per-panel legend
        shapes.append(dict(type="rect", xref=xd, yref=yd, x0=0.029, x1=0.683,
                           y0=0.0137, y1=0.1576, line=dict(color="#cccccc", width=1),
                           fillcolor="rgba(255,255,255,0.8)", layer="above"))
        for k, (col, label) in enumerate([(INK, STAR_IDS[c]), (RED, MODEL_NAMES[c])]):
            yy = 0.1166 if k == 0 else 0.056
            shapes.append(dict(type="line", xref=xd, yref=yd, x0=0.047, x1=0.149,
                               y0=yy, y1=yy, line=dict(color=col, width=1.2), layer="above"))
            annotations.append(dict(x=0.176, y=yy, xref=xd, yref=yd, text=label,
                                    showarrow=False, xanchor="left", yanchor="middle",
                                    font=dict(family=FONT, size=9, color="#222222")))

fig.update_layout(
    width=FIG_W, height=FIG_H,
    margin=dict(l=0, r=0, t=0, b=0, pad=0, autoexpand=False),
    paper_bgcolor="white", plot_bgcolor="white",
    showlegend=False,
    font=dict(family=FONT, color=INK),
    annotations=annotations, shapes=shapes,
    **layout_axes,
)

fig.write_html("out.html")
